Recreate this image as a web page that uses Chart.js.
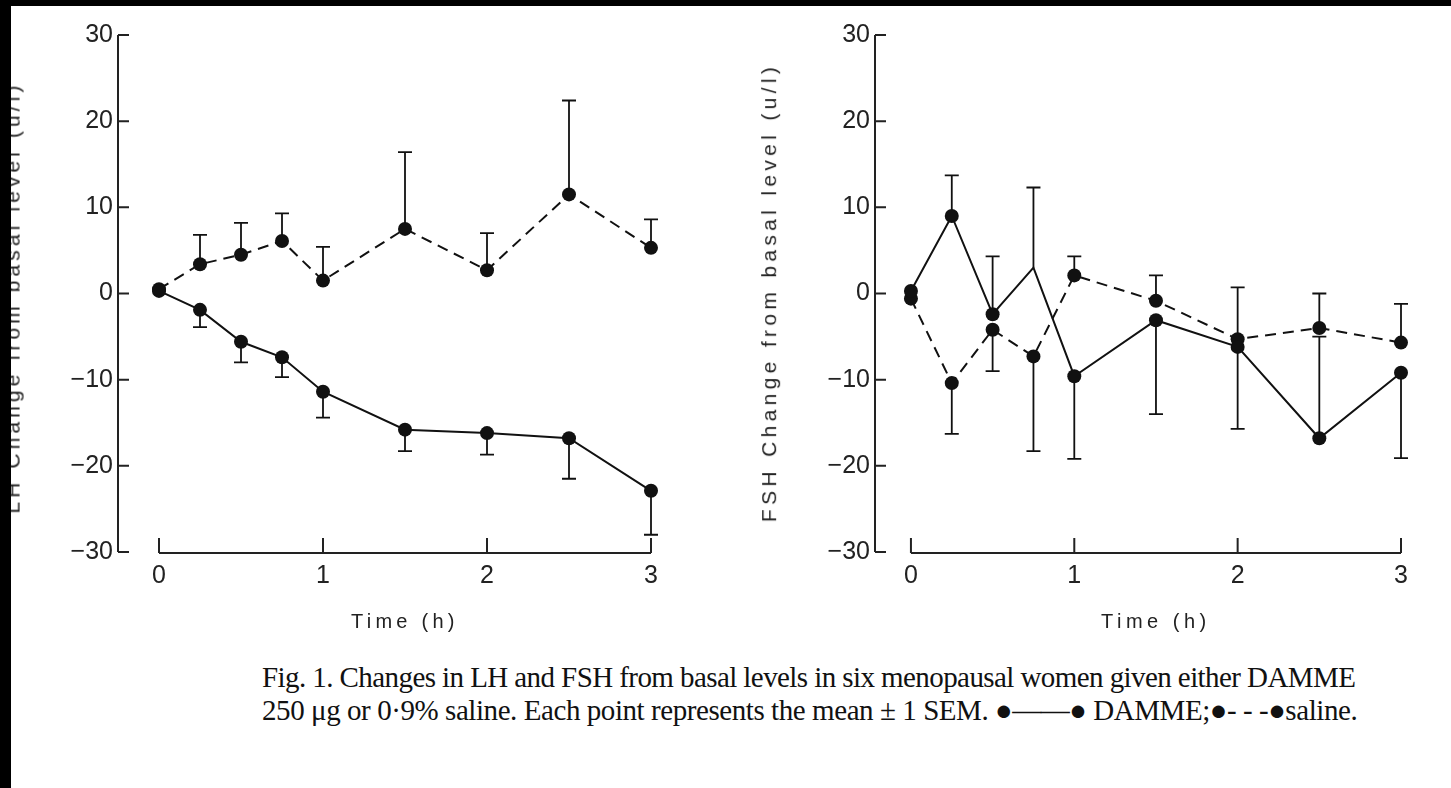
<!DOCTYPE html>
<html>
<head>
<meta charset="utf-8">
<script src="https://cdn.jsdelivr.net/npm/chart.js@4.4.1/dist/chart.umd.min.js"></script>
<style>
html,body{margin:0;padding:0;background:#fff;}
body{width:1451px;height:788px;position:relative;overflow:hidden;}
canvas{position:absolute;top:0;}
.edge{position:absolute;background:#000;z-index:5;}
.txt{position:absolute;white-space:nowrap;display:inline-block;line-height:1;color:#222;}
.sans{font-family:"Liberation Sans","DejaVu Sans",sans-serif;font-size:20px;}
.ytl{font-size:21px;}
.serif{font-family:"Liberation Serif","DejaVu Serif",serif;font-size:29px;color:#111;}
</style>
</head>
<body>
<canvas id="lh" width="700" height="650" style="left:0px;width:700px;height:650px"></canvas>
<canvas id="fsh" width="700" height="650" style="left:740px;width:700px;height:650px"></canvas>

<div class="txt sans" id="tx1">Time (h)</div>
<div class="txt sans" id="tx2">Time (h)</div>
<div class="txt sans ytl" id="ty1">LH Change from basal level (u/l)</div>
<div class="txt sans ytl" id="ty2">FSH Change from basal level (u/l)</div>
<div class="txt serif" id="cap1">Fig. 1. Changes in LH and FSH from basal levels in six menopausal women given either DAMME</div>
<div class="txt serif" id="cap2">250 μg or 0·9% saline. Each point represents the mean ± 1 SEM. ●——● DAMME;●- - -●saline.</div>

<div class="edge" style="left:0;top:0;width:1451px;height:6px"></div>
<div class="edge" style="left:0;top:0;width:11px;height:788px"></div>

<script>
// ---------- data ----------
const times = [0, 0.25, 0.5, 0.75, 1, 1.5, 2, 2.5, 3];
const xTicks = [0, 1, 2, 3];
const yTicks = [-30, -20, -10, 0, 10, 20, 30];

// LH (left panel)
const lhDamme        = [0.3, -1.9, -5.6, -7.4, -11.4, -15.8, -16.2, -16.8, -22.9];
const lhDammeErrEnd  = [null, -3.9, -8.0, -9.7, -14.4, -18.3, -18.7, -21.5, -28.0];
const lhSaline       = [0.5, 3.4, 4.5, 6.1, 1.5, 7.5, 2.7, 11.5, 5.3];
const lhSalineErrEnd = [null, 6.8, 8.2, 9.3, 5.4, 16.4, 7.0, 22.4, 8.6];

// FSH (right panel)
const fshDamme        = [0.3, 9.0, -2.4, 3.0, -9.6, -3.1, -6.2, -16.8, -9.2];
const fshDammeErrEnd  = [null, 13.7, 4.3, 12.3, -19.2, -14.0, -15.7, -5.0, -19.1];
const fshSaline       = [-0.6, -10.4, -4.2, -7.3, 2.1, -0.85, -5.3, -4.0, -5.7];
const fshSalineErrEnd = [null, -16.3, -9.0, -18.3, 4.3, 2.1, 0.7, 0.0, -1.2];

// ---------- styling ----------
const INK = '#111';
const AXIS = '#222';
Chart.defaults.font.family = '"Liberation Sans","DejaVu Sans",sans-serif';

const fmt = v => (v < 0 ? '\u2212' + Math.abs(v) : String(v));
const pts = vals => vals.map((v, i) => ({x: times[i], y: v}));

const errorBars = {
  id: 'errorBars',
  beforeDatasetsDraw(chart) {
    const {ctx, scales: {x, y}} = chart;
    ctx.save();
    ctx.strokeStyle = INK;
    ctx.lineWidth = 1.8;
    chart.data.datasets.forEach(ds => {
      if (!ds.errEnd) return;
      ds.data.forEach((p, i) => {
        const e = ds.errEnd[i];
        if (e === null || e === undefined) return;
        const px = x.getPixelForValue(p.x);
        const py = y.getPixelForValue(p.y);
        const ey = y.getPixelForValue(e);
        ctx.beginPath();
        ctx.moveTo(px, py); ctx.lineTo(px, ey);
        ctx.moveTo(px - 7, ey); ctx.lineTo(px + 7, ey);
        ctx.stroke();
      });
    });
    ctx.restore();
  }
};

const axesPlugin = {
  id: 'axesPlugin',
  beforeDatasetsDraw(chart) {
    const {ctx, scales: {x, y}} = chart;
    const left = chart.chartArea.left;
    ctx.save();
    ctx.strokeStyle = AXIS;
    ctx.lineWidth = 2;
    // y axis
    ctx.beginPath();
    ctx.moveTo(left, y.getPixelForValue(yTicks[yTicks.length - 1]));
    ctx.lineTo(left, y.getPixelForValue(yTicks[0]));
    yTicks.forEach(v => {
      const py = y.getPixelForValue(v);
      ctx.moveTo(left, py); ctx.lineTo(left + 11, py);
    });
    ctx.stroke();
    // x axis
    const by = y.getPixelForValue(yTicks[0]) + 1;
    ctx.beginPath();
    ctx.moveTo(x.getPixelForValue(xTicks[0]), by);
    ctx.lineTo(x.getPixelForValue(xTicks[xTicks.length - 1]), by);
    xTicks.forEach(v => {
      const px = x.getPixelForValue(v);
      ctx.moveTo(px, by); ctx.lineTo(px, by - 15);
    });
    ctx.stroke();
    ctx.restore();
  }
};

function makeChart(id, damme, dammeErr, saline, salineErr, cfg) {
  const common = {
    borderColor: INK, backgroundColor: INK, pointBackgroundColor: INK,
    pointBorderColor: INK, pointRadius: 7, pointBorderWidth: 0,
    borderWidth: 2, tension: 0, fill: false, clip: false
  };
  return new Chart(document.getElementById(id), {
    type: 'line',
    data: {
      datasets: [
        Object.assign({}, common, {label: 'DAMME', data: pts(damme), errEnd: dammeErr,
          pointRadius: cfg.dammeRadius || 7}),
        Object.assign({}, common, {label: 'saline', data: pts(saline), errEnd: salineErr,
          borderDash: [11, 7]})
      ]
    },
    options: {
      responsive: false, animation: false, devicePixelRatio: 1,
      layout: {padding: {top: 35, right: cfg.padRight, left: 0, bottom: 0}},
      plugins: {legend: {display: false}, tooltip: {enabled: false}},
      scales: {
        x: {
          type: 'linear', min: cfg.xMin, max: 3,
          grid: {display: false, drawTicks: false}, border: {display: false},
          afterBuildTicks: s => { s.ticks = xTicks.map(v => ({value: v})); },
          afterFit: s => { s.height = 98; },
          ticks: {color: AXIS, font: {size: 25}, padding: 9, maxRotation: 0, autoSkip: false,
                  callback: v => fmt(v)}
        },
        y: {
          type: 'linear', min: -30, max: 30,
          grid: {display: false, drawTicks: false}, border: {display: false},
          afterBuildTicks: s => { s.ticks = yTicks.map(v => ({value: v})); },
          afterFit: s => { s.width = cfg.yWidth; },
          ticks: {color: AXIS, font: {size: 25}, padding: 5, callback: v => fmt(v)}
        }
      }
    },
    plugins: [axesPlugin, errorBars]
  });
}

makeChart('lh', lhDamme, lhDammeErrEnd, lhSaline, lhSalineErrEnd,
  {xMin: -0.25, padRight: 49, yWidth: 118});
makeChart('fsh', fshDamme, fshDammeErrEnd, fshSaline, fshSalineErrEnd,
  {xMin: -0.22, padRight: 39, yWidth: 135, dammeRadius: [7, 7, 7, 0, 7, 7, 7, 7, 7]});

// ---------- text placement ----------
function place(id, cx, cy, target, rotate, leftAnchor) {
  const el = document.getElementById(id);
  const n = el.textContent.length;
  let w = el.offsetWidth;
  const ls = (target - w) / n;
  el.style.letterSpacing = ls + 'px';
  w = el.offsetWidth;
  const h = el.offsetHeight;
  el.style.left = (leftAnchor ? cx : cx - w / 2) + 'px';
  el.style.top = (cy - h / 2) + 'px';
  if (rotate) {
    el.style.transformOrigin = 'center center';
    el.style.transform = 'rotate(-90deg)';
  }
}
place('tx1', 405, 621, 108, false);
place('tx2', 1156, 621, 110, false);
place('ty1', 12, 297, 432, true);
place('ty2', 768, 292, 459, true);
place('cap1', 262, 677, 1093, false, true);
place('cap2', 262, 710, 1095, false, true);
</script>
</body>
</html>
